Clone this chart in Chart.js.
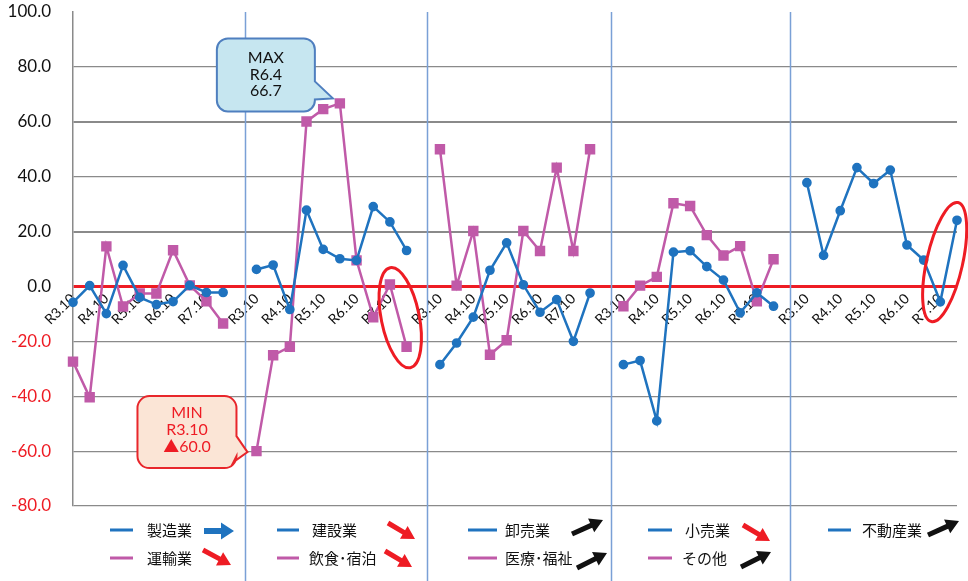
<!DOCTYPE html>
<html><head><meta charset="utf-8">
<script src="https://cdn.jsdelivr.net/npm/chart.js@4"></script>
<style>html,body{margin:0;padding:0;background:#fff}#wrap{width:968px;height:581px;position:relative}</style>
</head><body><div id="wrap"><canvas id="c"></canvas></div>
<script>
// ---- data ----
const periods = ['R3.10','R4.4','R4.10','R5.4','R5.10','R6.4','R6.10','R7.4','R7.10','R8.4'];
const tickLabels = ['R3.10','','R4.10','','R5.10','','R6.10','','R7.10',''];
const seizo    = [-5.8, 0.3, -9.9, 7.7, -4.0, -6.6, -5.5, 0.4, -2.2, -2.2];
const unyu     = [-27.4, -40.4, 14.6, -7.3, -2.6, -2.6, 13.2, 0.4, -5.4, -13.5];
const kensetsu = [6.2, 7.8, -8.4, 27.8, 13.5, 10.1, 9.5, 29.1, 23.5, 13.1];
const inshoku  = [-60.0, -25.1, -22.0, 60.1, 64.6, 66.7, 9.5, -11.2, 0.7, -22.0];
const oroshi   = [-28.5, -20.6, -11.2, 5.9, 15.9, 0.6, -9.4, -4.8, -20.0, -2.4];
const iryo     = [50.0, 0.3, 20.2, -24.9, -19.6, 20.2, 12.9, 43.3, 12.9, 50.0];
const kouri    = [-28.5, -27.0, -49.0, 12.5, 13.0, 7.2, 2.3, -9.6, -2.3, -7.2];
const sonota   = [-7.2, 0.3, 3.5, 30.3, 29.3, 18.7, 11.3, 14.7, -5.4, 9.9];
const fudosan  = [37.8, 11.3, 27.6, 43.3, 37.5, 42.4, 15.1, 9.6, -5.6, 24.1];
const blueNames = ['製造業','建設業','卸売業','小売業','不動産業'];
const pinkNames = ['運輸業','飲食･宿泊','医療･福祉','その他'];
const blueTrend = ['flat','down','up','down','up'];
const pinkTrend = ['down','down','up','up'];
const yTicks = [100, 80, 60, 40, 20, 0, -20, -40, -60, -80];

// ---- build ----
const BLUE = '#1f73bf', PINK = '#c05aa8', RED = '#ee1c24';
const PANEL = periods.length + 1;
const nPanels = 5;
const labels = [];
for (let p = 0; p < nPanels; p++) {
  tickLabels.forEach(t => labels.push(t));
  if (p < nPanels - 1) labels.push('');
}
function panelData(p, vals) {
  const arr = new Array(labels.length).fill(null);
  vals.forEach((v, i) => arr[p * PANEL + i] = v);
  return arr;
}
const blueSeries = [seizo, kensetsu, oroshi, kouri, fudosan];
const pinkSeries = [unyu, inshoku, iryo, sonota];
const datasets = [];
blueSeries.forEach((s, p) => datasets.push({
  label: blueNames[p], data: panelData(p, s), borderColor: BLUE, backgroundColor: BLUE,
  borderWidth: 2.5, pointStyle: 'circle', pointRadius: 3.6, spanGaps: false, order: 1
}));
pinkSeries.forEach((s, p) => datasets.push({
  label: pinkNames[p], data: panelData(p, s), borderColor: PINK, backgroundColor: PINK,
  borderWidth: 2.5, pointStyle: 'rect', pointRadius: 5.6, spanGaps: false, order: 2
}));

function drawArrow(ctx, x1, y1, x2, y2, color, shaft, headLen, headW) {
  const ang = Math.atan2(y2 - y1, x2 - x1), L = Math.hypot(x2 - x1, y2 - y1);
  ctx.save(); ctx.translate(x1, y1); ctx.rotate(ang); ctx.fillStyle = color;
  ctx.beginPath();
  ctx.moveTo(0, -shaft / 2); ctx.lineTo(L - headLen, -shaft / 2); ctx.lineTo(L - headLen, -headW / 2);
  ctx.lineTo(L, 0); ctx.lineTo(L - headLen, headW / 2); ctx.lineTo(L - headLen, shaft / 2); ctx.lineTo(0, shaft / 2);
  ctx.closePath(); ctx.fill(); ctx.restore();
}
function callout(ctx, l, t, r, b, rad, tail, fill, stroke) {
  ctx.save();
  ctx.beginPath();
  ctx.moveTo(l + rad, t);
  ctx.lineTo(r - rad, t); ctx.arcTo(r, t, r, t + rad, rad);
  ctx.lineTo(tail[0][0], tail[0][1]); ctx.lineTo(tail[1][0], tail[1][1]); ctx.lineTo(tail[2][0], tail[2][1]);
  ctx.lineTo(r, b - rad); ctx.arcTo(r, b, r - rad, b, rad);
  ctx.lineTo(l + rad, b); ctx.arcTo(l, b, l, b - rad, rad);
  ctx.lineTo(l, t + rad); ctx.arcTo(l, t, l + rad, t, rad);
  ctx.closePath();
  ctx.fillStyle = fill; ctx.fill();
  ctx.lineWidth = 2; ctx.strokeStyle = stroke; ctx.stroke();
  ctx.restore();
}

const decor = {
  id: 'decor',
  beforeDatasetsDraw(chart) {
    const { ctx, chartArea, scales: { x } } = chart;
    ctx.save();
    ctx.strokeStyle = '#7aa0d6'; ctx.lineWidth = 1.5;
    [10.31, 21.22, 32.25, 42.99].forEach(v => {
      const px = Math.round(x.getPixelForValue(v)) + 0.5;
      ctx.beginPath(); ctx.moveTo(px, chartArea.top); ctx.lineTo(px, chart.height); ctx.stroke();
    });
    ctx.restore();
  },
  afterDatasetsDraw(chart) {
    const { ctx, scales: { x, y } } = chart;
    // MAX callout
    const mx = x.getPixelForValue(PANEL + 5), my = y.getPixelForValue(inshoku[5]);
    const tip = [mx - 7, my - 5];
    let l = tip[0] - 116, r = tip[0] - 18, t = tip[1] - 60, b = tip[1] + 13;
    callout(ctx, l, t, r, b, 11, [[r, tip[1] - 17], tip, [r, tip[1] + 1]], '#c6e6f0', '#4f7fbf');
    ctx.save();
    ctx.font = '16px Lato'; ctx.fillStyle = '#111'; ctx.textAlign = 'center'; ctx.textBaseline = 'middle';
    const cx = (l + r) / 2;
    ctx.fillText('MAX', cx, t + 19);
    ctx.fillText(periods[5], cx, t + 36);
    ctx.fillText(inshoku[5].toFixed(1), cx, t + 52);
    ctx.restore();
    // MIN callout
    const nx = x.getPixelForValue(PANEL), ny = y.getPixelForValue(inshoku[0]);
    const tip2 = [nx - 9, ny + 1];
    l = tip2[0] - 110; r = tip2[0] - 11; t = tip2[1] - 56; b = tip2[1] + 16;
    callout(ctx, l, t, r, b, 12, [[r, tip2[1] - 16], tip2, [r - 3, tip2[1] + 10]], '#fbe5d6', '#e8262b');
    ctx.save();
    ctx.font = '16px Lato, "Noto Sans CJK JP"'; ctx.fillStyle = RED; ctx.textAlign = 'center'; ctx.textBaseline = 'middle';
    const cx2 = (l + r) / 2;
    ctx.fillText('MIN', cx2, t + 17);
    ctx.fillText(periods[0], cx2, t + 34);
    ctx.fillText('▲' + Math.abs(inshoku[0]).toFixed(1), cx2, t + 51);
    ctx.restore();
    // ellipses
    ctx.save(); ctx.strokeStyle = RED; ctx.lineWidth = 3;
    const e1x = (x.getPixelForValue(PANEL + 8) + x.getPixelForValue(PANEL + 9)) / 2 + 2;
    const e1y = (y.getPixelForValue(inshoku[8]) + y.getPixelForValue(inshoku[9])) / 2 + 2;
    ctx.beginPath(); ctx.ellipse(e1x, e1y, 19, 51, -0.2, 0, Math.PI * 2); ctx.stroke();
    const e2x = (x.getPixelForValue(4 * PANEL + 8) + x.getPixelForValue(4 * PANEL + 9)) / 2 - 4;
    const e2y = (y.getPixelForValue(fudosan[8]) + y.getPixelForValue(fudosan[9])) / 2 + 1;
    ctx.beginPath(); ctx.ellipse(e2x, e2y, 18, 61, 0.22, 0, Math.PI * 2); ctx.stroke();
    ctx.restore();
  },
  afterDraw(chart) {
    const { ctx } = chart;
    const lineX = [[110, 133], [277, 299], [468, 497], [648, 672], [828, 851]];
    const textX1 = [147, 312, 505, 685, 862];
    const textX2 = [147, 309, 505, 682];
    const arrows1 = [[204, 531, 234, 531], [388, 523, 415, 539], [572, 534, 603, 520], [743, 525, 770, 541], [928, 535, 959, 521]];
    const arrows2 = [[203, 550, 231, 565], [385, 551, 412, 567], [577, 568, 607, 553], [741, 567, 771, 552]];
    const y1 = 530, y2 = 558;
    ctx.save();
    ctx.font = '15px "Noto Sans CJK JP"'; ctx.textBaseline = 'middle'; ctx.fillStyle = '#111';
    const trendColor = tr => tr === 'flat' ? BLUE : (tr === 'down' ? RED : '#111');
    blueNames.forEach((n, p) => {
      ctx.fillStyle = BLUE; ctx.fillRect(lineX[p][0], y1 - 1.5, lineX[p][1] - lineX[p][0], 3);
      ctx.fillStyle = '#111'; ctx.fillText(n, textX1[p], y1);
      const a = arrows1[p];
      if (blueTrend[p] === 'flat') drawArrow(ctx, a[0], a[1], a[2], a[3], BLUE, 6, 13, 17);
      else drawArrow(ctx, a[0], a[1], a[2], a[3], trendColor(blueTrend[p]), 5, 13, 15);
    });
    pinkNames.forEach((n, p) => {
      ctx.fillStyle = PINK; ctx.fillRect(lineX[p][0], y2 - 1.5, lineX[p][1] - lineX[p][0], 3);
      ctx.fillStyle = '#111'; ctx.fillText(n, textX2[p], y2);
      const a = arrows2[p];
      drawArrow(ctx, a[0], a[1], a[2], a[3], trendColor(pinkTrend[p]), 5, 13, 15);
    });
    ctx.restore();
  }
};

new Chart(document.getElementById('c'), {
  type: 'line',
  data: { labels, datasets },
  options: {
    responsive: true, maintainAspectRatio: false, animation: false,
    layout: { padding: { top: 12, right: 11, bottom: 75, left: 0 } },
    plugins: { legend: { display: false }, tooltip: { enabled: false } },
    scales: {
      x: {
        type: 'category', position: { y: 0 }, offset: false,
        afterFit(s) { s.paddingLeft = 0; s.paddingRight = 0; },
        grid: { display: false, drawTicks: false }, border: { display: false },
        ticks: { autoSkip: false, minRotation: 45, maxRotation: 45, padding: 4,
          color: '#111', font: { family: 'Lato', size: 14 } }
      },
      y: {
        min: -80, max: 100,
        afterFit(s) { s.width = 73; s.paddingTop = 0; s.paddingBottom = 0; },
        afterBuildTicks(s) { s.ticks = yTicks.map(v => ({ value: v })); },
        ticks: { padding: 22, callback: v => Number(v).toFixed(1),
          color: c => c.tick.value < 0 ? RED : '#111', font: { family: 'Lato', size: 17 } },
        grid: { drawTicks: false,
          color: c => c.tick.value === 0 ? RED : (c.tick.value === 100 ? 'rgba(0,0,0,0)' : '#8a8a8a'),
          lineWidth: c => c.tick.value === 0 ? 3 : ((c.tick.value === 60 || c.tick.value === 20) ? 2 : 1.2) },
        border: { display: true, color: '#8a8a8a', width: 1.5 }
      }
    }
  },
  plugins: [decor]
});
</script></body></html>
